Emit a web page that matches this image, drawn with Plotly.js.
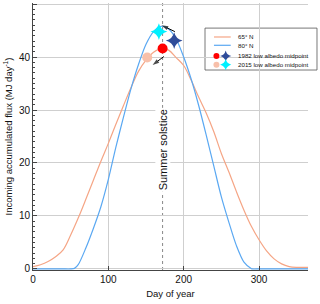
<!DOCTYPE html>
<html><head><meta charset="utf-8">
<script src="https://cdn.plot.ly/plotly-3.0.1.min.js"></script>
<style>html,body{margin:0;padding:0;background:#fff}#c{width:320px;height:304px}</style>
</head><body><div id="c"></div>
<script>
// Orange: 65° N
var days65 = [0,10,20,30,40,50,60,70,80,90,100,110,120,130,140,150,160,170,180,190,200,210,220,230,240,250,260,270,280,290,300,310,320,330,340,350,360,365];
var flux65 = [0.45,0.8,1.4,2.3,3.6,6.4,9.6,13.1,16.7,20.3,23.7,27.3,30.8,34.2,37.3,39.4,40.9,41.6,41.3,39.9,38.4,35.6,32.4,29.4,25.9,21.8,18.3,14.6,11.1,8.0,5.5,3.4,1.9,0.95,0.45,0.3,0.3,0.3];
// Blue: 80° N
var days80 = [0,10,20,30,40,50,55,60,70,80,90,100,110,120,130,140,150,160,170,180,190,200,210,220,230,240,250,260,270,280,290,291,300,310,320,330,340,350,360,365];
var flux80 = [0,0,0,0,0,0,0.1,0.8,3.9,7.6,11.7,16.9,23.0,28.6,34.0,38.6,42.4,44.8,45.8,45.3,43.4,40.0,35.8,30.8,25.2,19.4,13.6,8.8,4.4,1.3,0.05,0,0,0,0,0,0,0,0,0];
// Low albedo midpoints: [day, flux]
var mid1982_65 = [172, 41.6];
var mid2015_65 = [151.6, 39.9];
var mid1982_80 = [187.4, 43.1];
var mid2015_80 = [167.1, 44.8];
// Arrows: [tailDay, tailFlux, headDay, headFlux]
var arrow80 = [188.3, 44.8, 170.7, 46.0];
var arrow65 = [173.7, 40.1, 158.8, 38.5];
var solsticeDay = 172;
var xTicks = [0,100,200,300];
var yTicks = [0,10,20,30,40,50];
var legendLabels = ['65° N','80° N','1982 low albedo midpoint','2015 low albedo midpoint'];

var cOrange = '#F5A585', cBlue = '#5AA8F2', cRed = '#FF0000', cPeach = '#F8C0AA', cNavy = '#2E4C9A', cCyan = '#00F0FF';
var F = 'Liberation Sans, Arial, sans-serif';
var XR = [0, 365], YR = [-0.2, 50.2];

// legend geometry (paper coords)
var LX0 = 0.6255, LX1 = 1.0327, LY0 = 0.749, LY1 = 0.906;
var rowY = [0.8727, 0.8416, 0.8015, 0.769];
var symX1 = 0.667, symX2 = 0.7007, lineX0 = 0.658, lineX1 = 0.719, textX = 0.737;
function px2x(f) { return XR[0] + f * (XR[1] - XR[0]); }
function py2y(f) { return YR[0] + f * (YR[1] - YR[0]); }

function arrowTrace(a) {
  return {x: [a[0], a[2]], y: [a[1], a[3]], mode: 'lines+markers', cliponaxis: false, hoverinfo: 'skip',
    line: {color: '#000', width: 1},
    marker: {color: '#000', size: [0, 7], symbol: ['circle', 'arrow'], angleref: 'previous', line: {width: 0}}};
}

var traces = [
  {x: days65, y: flux65, mode: 'lines', line: {color: cOrange, width: 1.2, shape: 'spline', smoothing: 1}, hoverinfo: 'skip'},
  {x: days80, y: flux80, mode: 'lines', line: {color: cBlue, width: 1.2, shape: 'spline', smoothing: 0.8}, hoverinfo: 'skip'},
  {x: [mid1982_65[0]], y: [mid1982_65[1]], mode: 'markers', marker: {color: cRed, size: 10, symbol: 'circle'}},
  {x: [mid2015_65[0]], y: [mid2015_65[1]], mode: 'markers', marker: {color: cPeach, size: 10, symbol: 'circle'}},
  {x: [mid1982_80[0]], y: [mid1982_80[1]], mode: 'markers', marker: {color: cNavy, size: 12, symbol: 'star-diamond'}},
  {x: [mid2015_80[0]], y: [mid2015_80[1]], mode: 'markers', marker: {color: cCyan, size: 12, symbol: 'star-diamond'}},
  arrowTrace(arrow80),
  arrowTrace(arrow65),
  // legend keys
  {x: [px2x(symX1), px2x(symX1)], y: [py2y(rowY[2]), py2y(rowY[3])], mode: 'markers', cliponaxis: false, hoverinfo: 'skip',
   marker: {color: [cRed, cPeach], size: 6, symbol: 'circle'}},
  {x: [px2x(symX2), px2x(symX2)], y: [py2y(rowY[2]), py2y(rowY[3])], mode: 'markers', cliponaxis: false, hoverinfo: 'skip',
   marker: {color: [cNavy, cCyan], size: 8, symbol: 'star-diamond'}}
];

var shapes = [
  {type: 'line', xref: 'x', yref: 'paper', x0: solsticeDay, x1: solsticeDay, y0: 0, y1: 1,
   line: {color: '#888', width: 1, dash: 'dot'}, layer: 'between'},
  {type: 'rect', xref: 'paper', yref: 'paper', x0: LX0, x1: LX1, y0: LY0, y1: LY1,
   fillcolor: '#fff', line: {color: '#555', width: 0.8}, layer: 'between'},
  {type: 'line', xref: 'paper', yref: 'paper', x0: lineX0, x1: lineX1, y0: rowY[0], y1: rowY[0], line: {color: cOrange, width: 1.2}},
  {type: 'line', xref: 'paper', yref: 'paper', x0: lineX0, x1: lineX1, y0: rowY[1], y1: rowY[1], line: {color: cBlue, width: 1.2}}
];

var annotations = [
  {x: solsticeDay, y: 22.5, xref: 'x', yref: 'y', text: 'Summer solstice', textangle: -90, showarrow: false,
   bgcolor: '#fff', font: {family: F, size: 11, color: '#111'}}
];
for (var i = 0; i < legendLabels.length; i++) {
  annotations.push({x: textX, y: rowY[i], xref: 'paper', yref: 'paper', xanchor: 'left', yanchor: 'middle',
    text: legendLabels[i], showarrow: false, font: {family: F, size: 6.2, color: '#111'}});
}

var layout = {
  width: 320, height: 304, autosize: false,
  margin: {l: 33, r: 12, t: 3, b: 34},
  paper_bgcolor: '#fff', plot_bgcolor: '#fff',
  showlegend: false,
  font: {family: F, color: '#111'},
  xaxis: {range: XR, tickvals: xTicks, ticks: 'inside', ticklen: 4, tickcolor: '#444',
    showline: true, linecolor: '#444', linewidth: 1, showgrid: true, gridcolor: '#cfcfcf', zeroline: false,
    tickfont: {size: 10, family: F, color: '#111'},
    title: {text: 'Day of year', font: {size: 9.5, family: F, color: '#111'}, standoff: 6}},
  yaxis: {range: YR, tickvals: yTicks, ticks: 'inside', ticklen: 4, tickcolor: '#444',
    minor: {dtick: 1, ticks: 'inside', ticklen: 2, tickcolor: '#444', showgrid: false},
    showline: true, linecolor: '#444', linewidth: 1, showgrid: true, gridcolor: '#cfcfcf', zeroline: false,
    tickfont: {size: 10, family: F, color: '#111'},
    title: {text: 'Incoming accumulated flux (MJ day<sup>-1</sup>)', font: {size: 9.5, family: F, color: '#111'}, standoff: 4}},
  shapes: shapes,
  annotations: annotations
};

Plotly.newPlot('c', traces, layout, {staticPlot: true, displayModeBar: false});
</script>
</body></html>
